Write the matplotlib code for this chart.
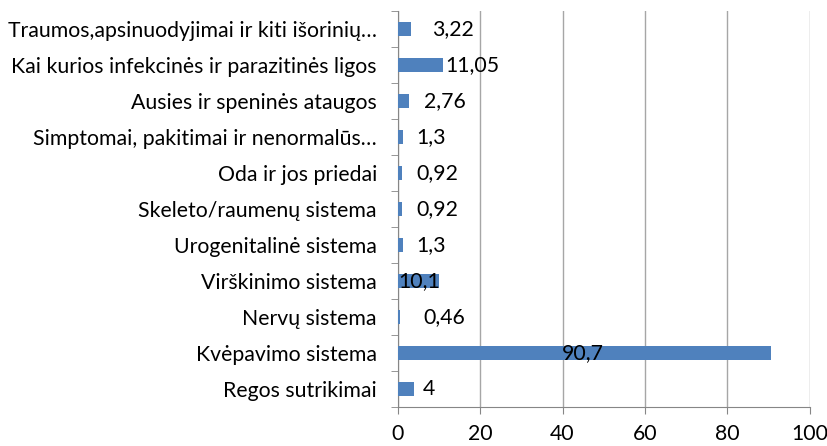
import numpy as np
import matplotlib.pyplot as plt

categories = ["Regos sutrikimai", "Kvėpavimo sistema", "Nervų sistema",
              "Virškinimo sistema", "Urogenitalinė sistema",
              "Skeleto/raumenų sistema", "Oda ir jos priedai",
              "Simptomai, pakitimai ir nenormalūs…",
              "Ausies ir speninės ataugos",
              "Kai kurios infekcinės ir parazitinės ligos",
              "Traumos,apsinuodyjimai ir kiti išorinių…"]
values = [4, 90.7, 0.46, 10.1, 1.3, 0.92, 0.92, 1.3, 2.76, 11.05, 3.22]
labels = ["4", "90,7", "0,46", "10,1", "1,3", "0,92", "0,92", "1,3", "2,76", "11,05", "3,22"]
xticks = [0, 20, 40, 60, 80, 100]

plt.rcParams['font.family'] = ['Lato', 'DejaVu Sans']
fs = 15.3

fig = plt.figure(figsize=(8.27, 4.46), dpi=100)
ax = fig.add_axes([0.481, 0.0874, 0.498, 0.888])

y = np.arange(len(categories))
ax.barh(y, values, height=0.38, color="#4F81BD", zorder=3)

# label positions as in the original (manually nudged in the source chart)
lab_x = [6.1, 45, 6.3, 0.2, 4.4, 4.4, 4.4, 4.6, 6.3, 11.6, 8.3]
for yi, lx, t in zip(y, lab_x, labels):
    ha = "center" if t == "90,7" else "left"
    ax.text(lx, yi, t, ha=ha, va="center", fontsize=fs, color="black", zorder=4)

ax.set_xlim(0, 100)
ax.set_ylim(-0.5, len(categories) - 0.5)
ax.set_xticks(xticks)
ax.set_xticklabels([str(v) for v in xticks], fontsize=fs)
ax.set_yticks(y)
ax.set_yticklabels(categories, fontsize=fs)
ax.set_yticks(np.arange(-0.5, len(categories), 1), minor=True)
ax.tick_params(axis="y", which="major", length=0, pad=15)
ax.tick_params(axis="y", which="minor", length=5, color="#868686")
ax.tick_params(axis="x", length=5, color="#868686", pad=7)

ax.grid(axis="x", color="#A6A6A6", linewidth=1, zorder=0)
for s in ["top", "right"]:
    ax.spines[s].set_visible(False)
ax.spines["left"].set_color("#868686")
ax.spines["bottom"].set_color("#868686")

fig.savefig("out.png", dpi=100)
